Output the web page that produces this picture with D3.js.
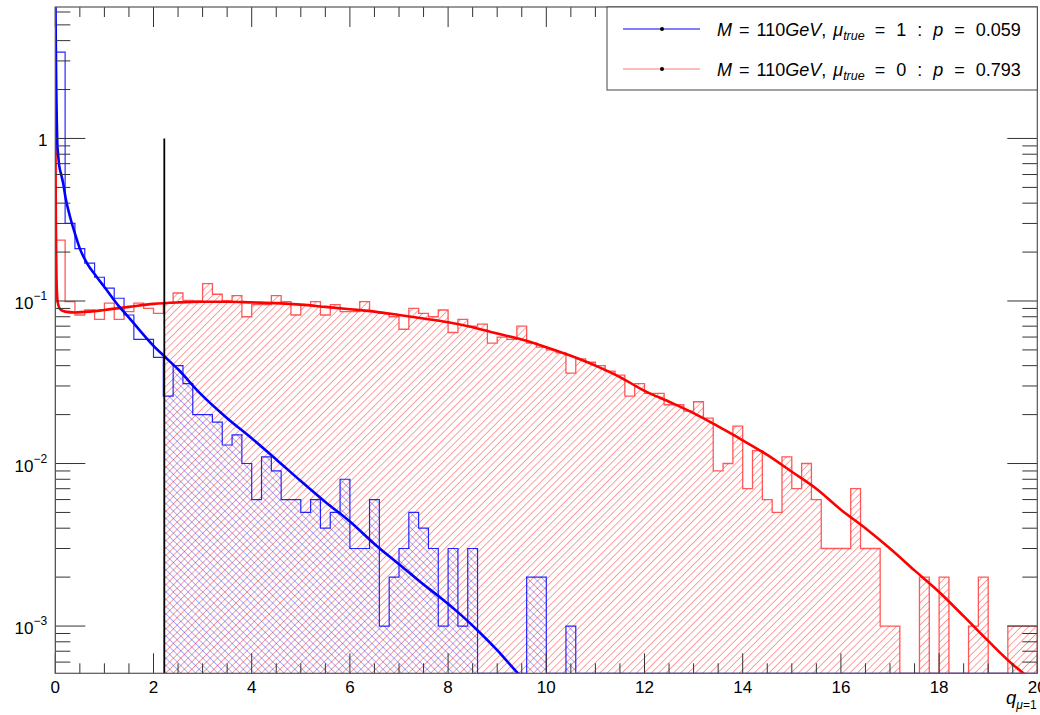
<!DOCTYPE html>
<html><head><meta charset="utf-8">
<script src="https://cdn.jsdelivr.net/npm/d3@7"></script>
<style>body{margin:0;background:#fff}svg{display:block}</style>
</head><body>
<svg id="c" width="1040" height="715"></svg>
<script>
// ---------------- data ----------------
const binWidth = 0.2;
const binStart = 0;
// mu_true = 0 toys (red), density per bin
const redHist = [
 0.237,0.099,0.082,0.088,0.077,0.097,0.077,0.086,0.097,0.090,
 0.084,0.097,0.112,0.101,0.100,0.128,0.110,0.100,0.108,0.080,
 0.095,0.095,0.108,0.099,0.082,0.095,0.099,0.082,0.095,0.086,
 0.086,0.099,0.086,0.084,0.080,0.067,0.090,0.084,0.080,0.088,
 0.064,0.077,0.070,0.072,0.055,0.060,0.058,0.070,0.055,0.052,
 0.050,0.048,0.036,0.044,0.042,0.040,0.037,0.035,0.026,0.031,
 0.027,0.027,0.023,0.023,0.021,0.024,0.019,0.009,0.010,0.017,
 0.007,0.012,0.006,0.005,0.011,0.007,0.010,0.006,0.003,0.003,
 0.003,0.007,0.003,0.003,0.001,0.001,0,0,0.002,0,
 0.002,0,0,0.001,0.002,0,0,0.001,0.001,0.001
];
// mu_true = 1 toys (blue)
const blueHist = [
 3.40,0.30,0.21,0.171,0.14,0.12,0.104,0.082,0.058,0.058,
 0.045,0.026,0.040,0.031,0.020,0.020,0.018,0.013,0.015,0.010,
 0.006,0.011,0.009,0.006,0.006,0.005,0.006,0.004,0.005,0.008,
 0.003,0.003,0.006,0.001,0.002,0.003,0.005,0.004,0.003,0.001,
 0.003,0.001,0.003,0,0,0,0,0,0.002,0.002,
 0,0,0.001,0,0,0,0,0,0,0,
 0,0,0,0,0,0,0,0,0,0,
 0,0,0,0,0,0,0,0,0,0,
 0,0,0,0,0,0,0,0,0,0,
 0,0,0,0,0,0,0,0,0,0
];
const tailStartBin = 11;       // hatched tail starts at q = 2.2
const qObserved = 2.22;        // observed test statistic
const qObservedTop = 1;

// asymptotic curves
const blueCurveQ = [0,0.008,0.02,0.03,0.04,0.06,0.08,0.12,0.16,0.21,0.3,0.4,0.5,0.65,0.84,1.0,1.28,1.5,1.72,2.0,2.21,2.5,2.95,3.5,4.0,4.5,5.0,5.5,6.0,6.5,7.0,7.5,7.84,8.25,8.65,9.0,9.4,9.6];
const blueCurveV = [9,4.5,2.0,1.3,0.95,0.78,0.68,0.6,0.53,0.43,0.33,0.26,0.21,0.17,0.141,0.122,0.094,0.079,0.066,0.053,0.046,0.038,0.027,0.019,0.0143,0.0106,0.0078,0.0058,0.0044,0.0032,0.0024,0.0018,0.0015,0.00118,0.00091,0.00071,0.00052,0.00045];
const redCurveQ = [0,0.006,0.012,0.02,0.03,0.05,0.1,0.2,0.4,0.7,1.0,1.5,2.0,2.5,3.0,3.5,4.0,4.5,5.0,5.5,6.0,6.5,7.0,7.5,8.0,8.5,9.0,9.5,10.0,10.5,11.0,11.5,12.0,12.5,13.0,13.5,14.0,14.5,15.0,15.5,16.0,16.5,17.0,17.5,18.0,18.5,19.0,19.5,19.8,20.0];
const redCurveV = [1.55,0.6,0.3,0.17,0.12,0.098,0.089,0.086,0.085,0.086,0.088,0.092,0.096,0.098,0.099,0.099,0.098,0.097,0.095,0.092,0.089,0.086,0.082,0.078,0.074,0.069,0.063,0.058,0.052,0.046,0.040,0.034,0.028,0.024,0.0204,0.0169,0.0139,0.0113,0.0089,0.0070,0.0052,0.0040,0.0030,0.0022,0.00162,0.00115,0.00081,0.00058,0.00049,0.00044];

const xMajorTicks = [0,2,4,6,8,10,12,14,16,18,20];
const xMinorStep = 0.5;
const yMajorTicks = [1e-3,1e-2,1e-1,1];
const yTickLabels = [{base:"10",exp:"\u22123"},{base:"10",exp:"\u22122"},{base:"10",exp:"\u22121"},{base:"1",exp:""}];
const legendEntries = [
  {color:"#0000ff", mu:"1", p:"0.059"},
  {color:"#ff7a7a", mu:"0", p:"0.793"}
];

// ---------------- layout ----------------
const L = 55.3, R = 1037.3, T = 7, B = 673.3;
const yMin = 5.12e-4, yMax = 6.44;
const svg = d3.select("#c");
const FONT = "'Liberation Sans', Arial, Helvetica, sans-serif";
svg.append("rect").attr("width",1040).attr("height",715).attr("fill","#fff");

const x = d3.scaleLinear().domain([0,20]).range([L,R]);
const y = d3.scaleLog().domain([yMin,yMax]).range([B,T]);
const yv = v => y(Math.max(v, yMin));

const defs = svg.append("defs");
defs.append("clipPath").attr("id","plot").append("rect")
  .attr("x",L).attr("y",T).attr("width",R-L).attr("height",B-T);
function hatch(id, color, angle, gap, op){
  const p = defs.append("pattern").attr("id",id).attr("patternUnits","userSpaceOnUse")
    .attr("width",gap).attr("height",gap).attr("patternTransform",`rotate(${angle})`);
  p.append("line").attr("x1",0).attr("y1",0).attr("x2",0).attr("y2",gap)
    .attr("stroke",color).attr("stroke-width",1).attr("stroke-opacity",op);
}
hatch("hRed","#ff0000",45,5.2,0.75);
hatch("hBlue","#0000ff",-45,5.2,0.6);

const g = svg.append("g").attr("clip-path","url(#plot)");

function stepPoints(vals, from, to){
  const pts = [];
  for (let i=from;i<to;i++){
    const x0 = binStart + i*binWidth, x1 = x0 + binWidth;
    pts.push([x0, vals[i]], [x1, vals[i]]);
  }
  return pts;
}
function areaPath(vals, from, to){
  const pts = stepPoints(vals, from, to);
  return d3.area().x(d=>x(d[0])).y0(B).y1(d=>yv(d[1]))(pts);
}
function outlinePath(vals){
  const pts = stepPoints(vals, 0, vals.length);
  pts.unshift([binStart, yMin]);
  pts.push([binStart + vals.length*binWidth, yMin]);
  return d3.line().x(d=>x(d[0])).y(d=>yv(d[1]))(pts);
}

// hatched tails
g.append("path").attr("d", areaPath(redHist, tailStartBin, redHist.length)).attr("fill","url(#hRed)");
g.append("path").attr("d", areaPath(blueHist, tailStartBin, 53)).attr("fill","url(#hBlue)");

// histogram outlines
g.append("path").attr("d", outlinePath(redHist)).attr("fill","none")
  .attr("stroke","#ff3030").attr("stroke-opacity",0.8).attr("stroke-width",1.3);
g.append("path").attr("d", outlinePath(blueHist)).attr("fill","none")
  .attr("stroke","#0000ff").attr("stroke-opacity",0.85).attr("stroke-width",1.2);

// curves
const curveLine = d3.line().x(d=>x(d[0])).y(d=>y(d[1])).curve(d3.curveMonotoneX);
g.append("path").attr("d", curveLine(redCurveQ.map((q,i)=>[q,redCurveV[i]])))
  .attr("fill","none").attr("stroke","#ff0000").attr("stroke-width",2.6);
g.append("path").attr("d", curveLine(blueCurveQ.map((q,i)=>[q,blueCurveV[i]])))
  .attr("fill","none").attr("stroke","#0000ff").attr("stroke-width",2.6);

// observed value
g.append("line").attr("x1",x(qObserved)).attr("x2",x(qObserved))
  .attr("y1",y(qObservedTop)).attr("y2",B).attr("stroke","#000").attr("stroke-width",1.8);

// ---------------- axes ----------------
const ax = svg.append("g").attr("stroke","#333").attr("stroke-width",1);
const xMinor = d3.range(0,20+1e-9,xMinorStep).filter(v=>!xMajorTicks.includes(v));
const tickLenX = 20, tickLenY = 30;
function seg(x1,y1,x2,y2){ ax.append("line").attr("x1",x1).attr("y1",y1).attr("x2",x2).attr("y2",y2); }
xMajorTicks.forEach(v=>{ seg(x(v),B,x(v),B-tickLenX); seg(x(v),T,x(v),T+tickLenX); });
xMinor.forEach(v=>{ seg(x(v),B,x(v),B-tickLenX/2); seg(x(v),T,x(v),T+tickLenX/2); });
const yMinor = [];
[-4,-3,-2,-1,0].forEach(e=>{ for(let k=2;k<=9;k++){ const v=k*Math.pow(10,e); if(v>yMin&&v<yMax) yMinor.push(v);} });
yMajorTicks.forEach(v=>{ seg(L,y(v),L+tickLenY,y(v)); seg(R,y(v),R-tickLenY,y(v)); });
yMinor.forEach(v=>{ seg(L,y(v),L+tickLenY/2,y(v)); seg(R,y(v),R-tickLenY/2,y(v)); });
svg.append("rect").attr("x",L).attr("y",T).attr("width",R-L).attr("height",B-T)
  .attr("fill","none").attr("stroke","#555").attr("stroke-width",1.2);

// labels
const lab = svg.append("g").attr("font-family",FONT).attr("fill","#000");
xMajorTicks.forEach(v=>{
  lab.append("text").attr("x",x(v)).attr("y",692.5).attr("text-anchor","middle")
    .attr("font-size",17).text(d3.format("d")(v));
});
yMajorTicks.forEach((v,i)=>{
  const lb = yTickLabels[i];
  if (lb.exp){
    const t = lab.append("text").attr("x",14.5).attr("y",y(v)+8).attr("font-size",17);
    t.append("tspan").text(lb.base);
    t.append("tspan").attr("dy",-9).attr("font-size",12).text(lb.exp);
  } else {
    lab.append("text").attr("x",47.5).attr("y",y(v)+8).attr("text-anchor","end").attr("font-size",17).text(lb.base);
  }
});
// axis title
const xt = lab.append("text").attr("x",1006).attr("y",704).attr("font-size",18.5);
xt.append("tspan").attr("font-style","italic").text("q");
xt.append("tspan").attr("dy",5).attr("font-size",12).attr("font-style","italic").text("\u03bc");
xt.append("tspan").attr("font-size",12).text("=1");

// ---------------- legend ----------------
const lg = svg.append("g");
lg.append("rect").attr("x",607).attr("y",T).attr("width",R-607).attr("height",90-T)
  .attr("fill","#fff").attr("stroke","#444").attr("stroke-width",1);
legendEntries.forEach((e,i)=>{
  const cy = 29 + i*40;
  lg.append("line").attr("x1",623).attr("x2",700).attr("y1",cy).attr("y2",cy)
    .attr("stroke",e.color).attr("stroke-width",1.2);
  lg.append("circle").attr("cx",662).attr("cy",cy).attr("r",2).attr("fill","#000");
  const t = lg.append("text").attr("x",717).attr("y",cy+7).attr("font-family",FONT).attr("font-size",18);
  const tok = (s, opts={}) => {
    const ts = t.append("tspan").text(s);
    if (opts.it) ts.attr("font-style","italic");
    if (opts.dx) ts.attr("dx",opts.dx);
    if (opts.dy) ts.attr("dy",opts.dy);
    if (opts.fs) ts.attr("font-size",opts.fs);
    return ts;
  };
  tok("M",{it:true}); tok("=",{dx:7}); tok("110",{dx:7}); tok("GeV",{it:true}); tok(",");
  tok("\u03bc",{it:true,dx:7});
  tok("true",{it:true,fs:12.5,dy:4});
  tok("=",{dy:-4,dx:10}); tok(e.mu,{dx:11}); tok(":",{dx:11});
  tok("p",{it:true,dx:11}); tok("=",{dx:11}); tok(e.p,{dx:11});
});
</script>
</body></html>
